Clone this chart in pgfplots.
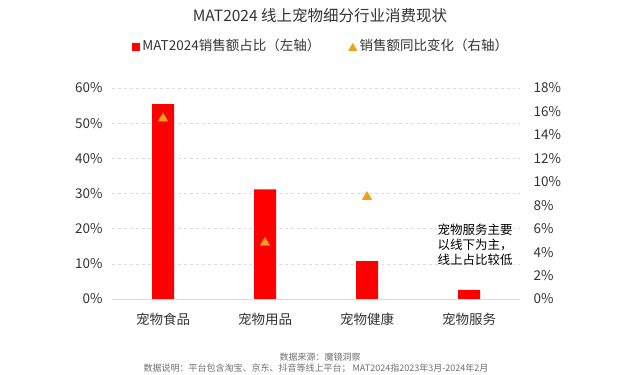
\documentclass[border=0pt]{standalone}
\usepackage{fontspec}
\setmainfont{Noto Sans CJK SC}
\usepackage{pgfplots}
\pgfplotsset{compat=1.18}
\definecolor{barred}{RGB}{255,0,0}
\definecolor{triorange}{RGB}{240,160,25}
\definecolor{txt}{RGB}{51,51,51}
\definecolor{gridc}{RGB}{220,220,220}
\definecolor{foot}{RGB}{110,110,110}
\begin{document}
\begin{tikzpicture}
\path[use as bounding box] (-112bp,-76bp) rectangle (515bp,299bp);
\begin{axis}[
  scale only axis, width=408bp, height=211bp,
  xmin=-0.5, xmax=3.5, ymin=0, ymax=60,
  axis x line*=bottom, axis y line*=left,
  axis line style={draw=none},
  x axis line style={draw=gridc, thin},
  xtick={0,1,2,3},
  xticklabels={宠物食品,宠物用品,宠物健康,宠物服务},
  xtick style={draw=none}, ytick style={draw=none},
  ytick={0,10,...,60},
  ymajorgrids, grid style={gridc, dashed, thin},
  /pgf/number format/assume math mode=true,
  yticklabel={\pgfmathprintnumber{\tick}\%},
  tick label style={font=\fontsize{13.5bp}{15bp}\selectfont, text=txt},
  yticklabel style={xshift=-6bp},
  xticklabel style={yshift=-11bp},
  legend style={at={(0.51,1.2)}, anchor=center, draw=none, fill=none,
    legend columns=2, font=\fontsize{13.5bp}{15bp}\selectfont, text=txt,
    /tikz/every even column/.append style={column sep=24bp}},
  legend image code/.code={},
]
\addplot[ybar, bar width=22bp, fill=barred, draw=none, bar shift=0pt] coordinates {(0,55.4) (1,31.2) (2,10.8) (3,2.6)};
\addlegendentry{\tikz\fill[barred] (0,0) rectangle (8bp,8bp);\,MAT2024销售额占比（左轴）}
\addlegendimage{empty legend}
\addlegendentry{\tikz\fill[triorange] (0,0) -- (9bp,0) -- (4.5bp,8bp) -- cycle;\,销售额同比变化（右轴）}
\end{axis}
\begin{axis}[
  scale only axis, width=408bp, height=211bp,
  xmin=-0.5, xmax=3.5, ymin=0, ymax=18,
  axis x line=none, axis y line*=right,
  axis line style={draw=none},
  ytick={0,2,...,18}, ytick style={draw=none},
  /pgf/number format/assume math mode=true,
  yticklabel={\pgfmathprintnumber{\tick}\%},
  yticklabel style={font=\fontsize{13.5bp}{15bp}\selectfont, text=txt, xshift=10bp},
]
\addplot[only marks, mark=triangle*, mark size=5.5bp, color=triorange] coordinates {(0,15.4) (1,4.8) (2,8.7)};
\end{axis}
\node[text=txt, font=\fontsize{15.5bp}{18bp}\selectfont] at (208bp,283bp) {MAT2024 线上宠物细分行业消费现状};
\node[anchor=west, align=left, font=\fontsize{12.5bp}{15bp}\selectfont, text=black] at (322bp,54bp) {宠物服务主要\\以线下为主，\\线上占比较低};
\node[text=foot, font=\fontsize{9bp}{10bp}\selectfont] at (208bp,-58bp) {数据来源：魔镜洞察};
\node[text=foot, font=\fontsize{9bp}{10bp}\selectfont] at (204bp,-69bp) {数据说明：平台包含淘宝、京东、抖音等线上平台； MAT2024指2023年3月-2024年2月};
\end{tikzpicture}
\end{document}
